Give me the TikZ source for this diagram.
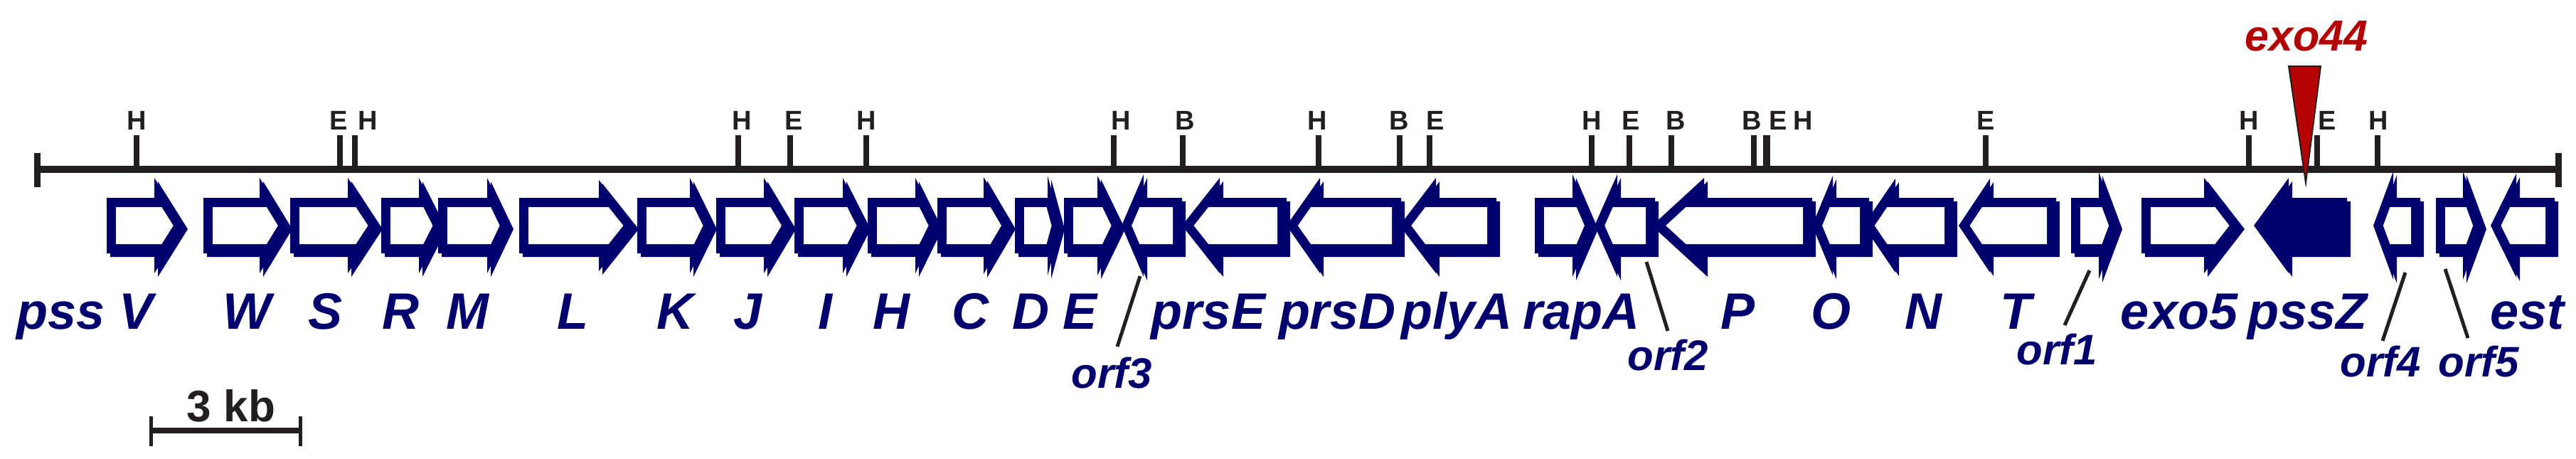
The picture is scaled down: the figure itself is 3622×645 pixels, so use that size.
\documentclass[tikz,border=0pt]{standalone}
\usepackage{fontspec}
\setmainfont{Liberation Sans}
\usepackage{tikz}
\usetikzlibrary{calc,positioning}

\definecolor{genenavy}{RGB}{0,0,110}
\definecolor{mapgrey}{RGB}{35,31,32}
\definecolor{insred}{RGB}{180,0,0}

% outline of a gene arrow: body end, head back, tip, half height of head
\newcommand{\geneouter}[4]{%
	\fill[genenavy, shift={(5,5)}] (#1,278) -- (#2,278) -- (#2,317-#4) -- (#3,317) -- (#2,317+#4) -- (#2,356) -- (#1,356) -- cycle;
	\fill[genenavy] (#1,278) -- (#2,278) -- (#2,317-#4) -- (#3,317) -- (#2,317+#4) -- (#2,356) -- (#1,356) -- cycle;
}
\newcommand{\genearrow}[4]{%
	\geneouter{#1}{#2}{#3}{#4}
	\pgfmathsetmacro{\gdir}{(#3>#1) ? 1 : -1}%
	\pgfmathsetmacro{\ghead}{abs(#3-#2)}%
	\pgfmathsetmacro{\gslant}{13*sqrt(1+(\ghead/#4)^2)}%
	\pgfmathsetmacro{\ginx}{#2+\gdir*(\ghead*(#4-26)/#4-\gslant)}%
	\pgfmathsetmacro{\gintip}{#3-\gdir*\gslant}%
	\pgfmathsetmacro{\ginback}{#1+\gdir*13}%
	\fill[white] (\ginback,291) -- (\ginx,291) -- (\gintip,317) -- (\ginx,343) -- (\ginback,343) -- cycle;
}

\begin{document}
\begin{tikzpicture}[x=1pt, y=-1pt,
		genelabel/.style = {anchor=base, inner sep=0pt, text=genenavy, font=\fontsize{72}{80}\selectfont\bfseries\itshape},
		orflabel/.style = {anchor=base, inner sep=0pt, text=genenavy, font=\fontsize{60}{66}\selectfont\bfseries\itshape},
		leader/.style = {mapgrey, line width=5pt}]
		\tikzset{site/.style={mapgrey, line width=8pt},
			sitelabel/.style={anchor=base, inner sep=0pt, text=mapgrey, font=\fontsize{38}{42}\selectfont\bfseries}}
		\useasboundingbox (0,0) rectangle (3622,645);

		% restriction map
		\draw[mapgrey, line width=10pt] (52,238) -- (3597,238);
		\draw[mapgrey, line width=9pt] (52,215) -- (52,263);
		\draw[mapgrey, line width=9pt] (3597,215) -- (3597,263);
		\foreach \x/\lab/\lx [count=\i] in {192/H/192, 478/E/476, 499/H/517, 1038/H/1043, 1111/E/1116, 1218/H/1218,
				1566/H/1576, 1663/B/1666, 1854/H/1852, 1968/B/1967, 2010/E/2018, 2238/H/2238, 2291/E/2293, 2350/B/2356,
				2466/B/2463, 2483/E/2500, 2485/H/2535, 2792/E/2792, 3162/H/3162, 3258/E/3272, 3343/H/3344} {
			\draw[site] (\x,242) -- (\x,190);
			\node[sitelabel] (site\i) at (\lx,182) {\lab};
		}

		% genes
		\genearrow{150}{217}{259}{67}
		\genearrow{286}{365}{406}{67}
		\genearrow{408}{489}{533}{67}
		\genearrow{536}{589}{623}{67}
		\genearrow{616}{685}{717}{67}
		\genearrow{730}{842}{893}{64}
		\genearrow{896}{970}{1003}{67}
		\genearrow{1007}{1074}{1114}{67}
		\genearrow{1117}{1185}{1219}{67}
		\genearrow{1220}{1287}{1320}{67}
		\genearrow{1318}{1383}{1423}{68}
		\genearrow{1427}{1473}{1492}{70}
		\genearrow{1496}{1543}{1577}{70}
		\genearrow{1662}{1608}{1577}{72}
		\genearrow{1809}{1715}{1662}{67}
		\genearrow{1970}{1856}{1809}{67}
		\genearrow{2104}{2019}{1968}{67}
		\genearrow{2158}{2211}{2242}{72}
		\genearrow{2327}{2274}{2242}{72}
		\genearrow{2548}{2396}{2323}{67}
		\genearrow{2628}{2577}{2548}{70}
		\genearrow{2747}{2665}{2620}{66}
		\genearrow{2891}{2798}{2754}{66}
		\genearrow{2912}{2951}{2979}{75}
		\genearrow{3011}{3099}{3151}{67}
		\geneouter{3300}{3218}{3169}{67}
		\genearrow{3403}{3365}{3337}{76}
		\genearrow{3425}{3463}{3491}{76}
		\genearrow{3592}{3538}{3502}{73}

		% gene names
		\node[genelabel] (lV) at (120,462) {pss V};
		\node[genelabel] (lW) at (347,462) {W};
		\node[genelabel] (lS) at (458,462) {S};
		\node[genelabel] (lR) at (563,462) {R};
		\node[genelabel] (lM) at (657,462) {M};
		\node[genelabel] (lL) at (805,462) {L};
		\node[genelabel] (lK) at (949,462) {K};
		\node[genelabel] (lJ) at (1052,462) {J};
		\node[genelabel] (lI) at (1160,462) {I};
		\node[genelabel] (lH) at (1253,462) {H};
		\node[genelabel] (lC) at (1364,462) {C};
		\node[genelabel] (lD) at (1449,462) {D};
		\node[genelabel] (lE) at (1518,462) {E};
		\node[genelabel] (lprsE) at (1699,462) {prsE};
		\node[genelabel] (lprsD) at (1880,462) {prsD};
		\node[genelabel] (lplyA) at (2048,462) {plyA};
		\node[genelabel] (lrapA) at (2223,462) {rapA};
		\node[genelabel] (lP) at (2443,462) {P};
		\node[genelabel] (lO) at (2574,462) {O};
		\node[genelabel] (lN) at (2704,462) {N};
		\node[genelabel] (lT) at (2834,462) {T};
		\node[genelabel] (lexo5) at (3064,462) {exo5};
		\node[genelabel] (lpssZ) at (3244,462) {pssZ};
		\node[genelabel] (lest) at (3553,462) {est};

		\node[orflabel] (lorf3) at (1563,545) {orf3};
		\node[orflabel] (lorf2) at (2345,520) {orf2};
		\node[orflabel] (lorf1) at (2892,512) {orf1};
		\node[orflabel] (lorf4) at (3347,529) {orf4};
		\node[orflabel] (lorf5) at (3485,529) {orf5};

		\coordinate (orf3a) at (1603,388); \coordinate (orf3b) at (1571,487);
		\coordinate (orf2a) at (2315,368); \coordinate (orf2b) at (2345,465);
		\coordinate (orf1a) at (2938,380); \coordinate (orf1b) at (2903,457);
		\coordinate (orf4a) at (3382,383); \coordinate (orf4b) at (3350,479);
		\coordinate (orf5a) at (3438,378); \coordinate (orf5b) at (3470,475);
		\draw[leader] (orf3a) -- (orf3b);
		\draw[leader] (orf2a) -- (orf2b);
		\draw[leader] (orf1a) -- (orf1b);
		\draw[leader] (orf4a) -- (orf4b);
		\draw[leader] (orf5a) -- (orf5b);

		% insertion
		\coordinate (insL) at (3218,93);
		\coordinate (insR) at (3263,93);
		\coordinate (insT) at (3242,257);
		\fill[insred, draw=mapgrey, line width=2pt] (insL) -- (insR) -- (insT) -- cycle;
		\node[anchor=base, inner sep=0pt, text=insred, font=\fontsize{61}{66}\selectfont\bfseries\itshape] (lexo44) at (3243,71) {exo44};

		% scale bar
		\coordinate (barL) at (212,605);
		\coordinate (barR) at (422,605);
		\draw[mapgrey, line width=8pt] (barL) -- (barR);
		\draw[mapgrey, line width=5pt] ($(barL)+(0,-20)$) -- ($(barL)+(0,22)$);
		\draw[mapgrey, line width=5pt] ($(barR)+(0,-20)$) -- ($(barR)+(0,22)$);
		\node[anchor=base, inner sep=0pt, text=mapgrey, font=\fontsize{62}{68}\selectfont\bfseries] (lkb) at (325,592) {3 kb};
	\end{tikzpicture}
\end{document}
